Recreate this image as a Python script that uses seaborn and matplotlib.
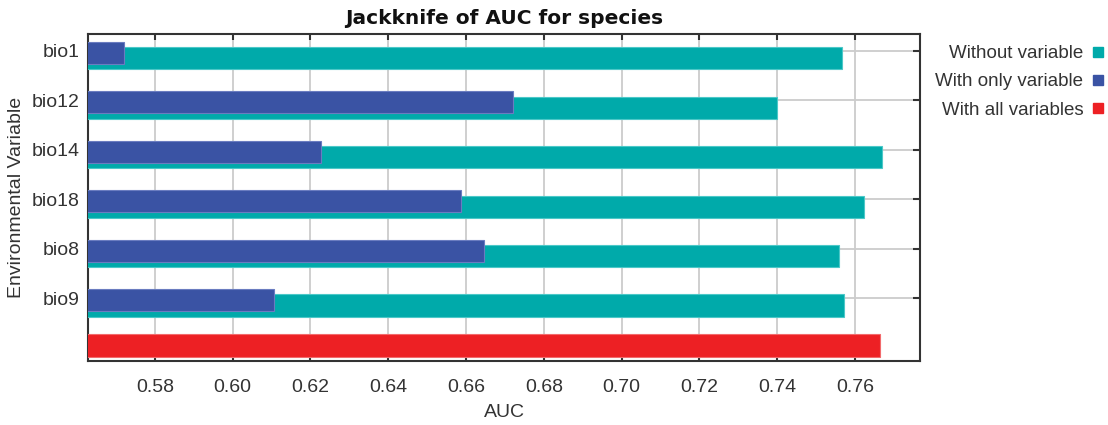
import numpy as np
import pandas as pd
import matplotlib
matplotlib.use("Agg")
import matplotlib.pyplot as plt
from matplotlib.lines import Line2D
import seaborn as sns

variables = ["bio1", "bio12", "bio14", "bio18", "bio8", "bio9"]
without_variable = [0.7567, 0.7399, 0.7670, 0.7622, 0.7558, 0.7571]
with_only_variable = [0.5720, 0.6721, 0.6226, 0.6586, 0.6645, 0.6107]
with_all_variables = [0.7665]
xticks = [0.58, 0.60, 0.62, 0.64, 0.66, 0.68, 0.70, 0.72, 0.74, 0.76]

TEAL = "#00AAAA"
BLUE = "#3A53A4"
RED = "#ED2024"

sns.set_theme(style="white")
plt.rcParams["font.family"] = ["Liberation Sans", "DejaVu Sans"]

fig = plt.figure(figsize=(11.08, 4.25), dpi=100)
ax = fig.add_axes([88 / 1108, 64 / 425, (920 - 88) / 1108, (361 - 34) / 425])

pos = np.arange(len(variables))
df_wo = pd.DataFrame({"auc": without_variable, "pos": pos + 0.15})
df_only = pd.DataFrame({"auc": with_only_variable, "pos": pos + 0.04})
df_all = pd.DataFrame({"auc": with_all_variables, "pos": [len(variables) - 0.04]})

sns.barplot(data=df_wo, x="auc", y="pos", orient="h", native_scale=True,
            width=0.45, color=TEAL, saturation=1, edgecolor="#4cc8c8",
            linewidth=0.8, ax=ax, zorder=3)
sns.barplot(data=df_only, x="auc", y="pos", orient="h", native_scale=True,
            width=0.44, color=BLUE, saturation=1, edgecolor="#6a7cc0",
            linewidth=0.8, ax=ax, zorder=4)
sns.barplot(data=df_all, x="auc", y="pos", orient="h", native_scale=True,
            width=0.47, color=RED, saturation=1, edgecolor="#f26a6c",
            linewidth=0.8, ax=ax, zorder=4)

ax.set_xlim(0.5628, 0.7767)
ax.set_ylim(6.27, -0.34)
ax.set_xticks(xticks)
ax.set_xticklabels([f"{t:.2f}" for t in xticks], fontsize=14, color="#333333")
ax.set_yticks(pos)
ax.set_yticklabels(variables, fontsize=14, color="#333333")

ax.grid(True, color="#cccccc", linewidth=1.3, zorder=0)
ax.set_axisbelow(True)
for s in ax.spines.values():
    s.set_visible(True)
    s.set_color("#333333")
    s.set_linewidth(1.5)

ax.tick_params(axis="x", direction="in", top=True, bottom=True, length=4,
               width=1.5, color="#333333", pad=13)
ax.tick_params(axis="y", direction="in", left=False, right=True, length=5,
               width=1.5, color="#333333", pad=6)

ax.set_xlabel("AUC", fontsize=14, color="#333333", labelpad=6)
ax.set_ylabel("Environmental Variable", fontsize=14, color="#333333", labelpad=5)
ax.set_title("Jackknife of AUC for species", fontsize=14.5, fontweight="bold",
             color="#111111", pad=7, family="DejaVu Sans")

handles = [Line2D([], [], marker="s", linestyle="none", markersize=6.5, color=c)
           for c in (TEAL, BLUE, RED)]
fig.legend(handles, ["Without variable", "With only variable", "With all variables"],
           loc="upper right", bbox_to_anchor=(1104 / 1108, 1 - 45 / 425),
           frameon=False, markerfirst=False, fontsize=13.5, handlelength=0.6,
           handletextpad=0.5, labelspacing=0.6, labelcolor="#333333",
           borderaxespad=0, borderpad=0)

fig.savefig("out.png", dpi=100)
